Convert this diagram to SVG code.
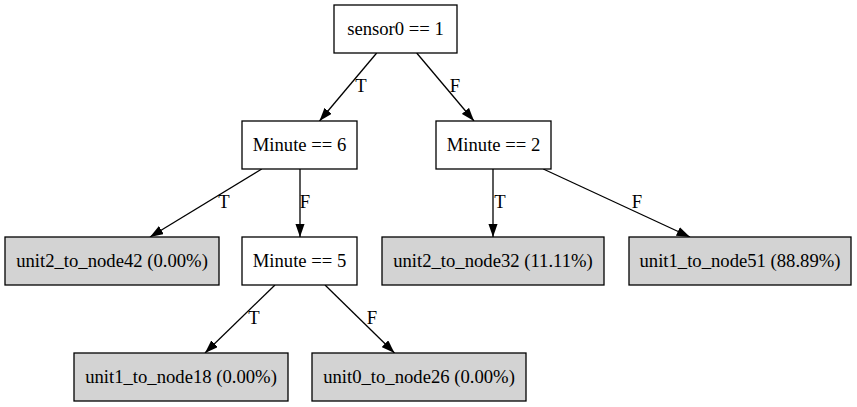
<svg xmlns="http://www.w3.org/2000/svg" width="857" height="407" viewBox="0 0 857 407">
  <style>
    .box { fill: #ffffff; stroke: #000000; stroke-width: 1.3; }
    .leaf { fill: #d3d3d3; stroke: #000000; stroke-width: 1.3; }
    text { font-family: 'Liberation Serif', 'Times New Roman', Times, serif; font-size: 18.67px; fill: #000000; }
    .nl { text-anchor: middle; }
    .el { text-anchor: middle; }
    .edge { fill: none; stroke: #000000; stroke-width: 1.3; marker-end: url(#arrow); }
  </style>
  <defs>
    <marker id="arrow" viewBox="0 0 13.3 9.3" refX="13.3" refY="4.65" markerWidth="13.3" markerHeight="9.3" markerUnits="userSpaceOnUse" orient="auto">
      <path d="M0,0 L13.3,4.65 L0,9.3 z" fill="#000000"/>
    </marker>
  </defs>
  <rect width="857" height="407" fill="#ffffff"/>

  <!-- connectors -->
  <g id="edges">
    <path class="edge" d="M376.7,53 L319.5,121"/>
    <text class="el" x="361" y="92">T</text>
    <path class="edge" d="M416.7,53 L474,121"/>
    <text class="el" x="455" y="92">F</text>
    <path class="edge" d="M261.7,169 L150,237"/>
    <text class="el" x="224" y="208">T</text>
    <path class="edge" d="M300,169 L300,237"/>
    <text class="el" x="305" y="208">F</text>
    <path class="edge" d="M493,169 L493,237"/>
    <text class="el" x="500" y="208">T</text>
    <path class="edge" d="M543.3,169 L690,237"/>
    <text class="el" x="637" y="208">F</text>
    <path class="edge" d="M275,285 L205,353"/>
    <text class="el" x="254" y="324">T</text>
    <path class="edge" d="M325,285 L394.5,353"/>
    <text class="el" x="372" y="324">F</text>
  </g>

  <!-- nodes -->
  <g id="node_root">
    <rect class="box" x="334" y="5" width="123" height="48"/>
    <text class="nl" x="395.5" y="34.5">sensor0 == 1</text>
  </g>
  <g id="node_minute6">
    <rect class="box" x="242" y="121" width="115" height="48"/>
    <text class="nl" x="299.5" y="150.5">Minute == 6</text>
  </g>
  <g id="node_minute2">
    <rect class="box" x="436" y="121" width="115" height="48"/>
    <text class="nl" x="493.5" y="150.5">Minute == 2</text>
  </g>
  <g id="node_unit2_to_node42">
    <rect class="leaf" x="5" y="237" width="214" height="48"/>
    <text class="nl" x="112" y="266.5">unit2_to_node42 (0.00%)</text>
  </g>
  <g id="node_minute5">
    <rect class="box" x="242" y="237" width="115" height="48"/>
    <text class="nl" x="299.5" y="266.5">Minute == 5</text>
  </g>
  <g id="node_unit2_to_node32">
    <rect class="leaf" x="382" y="237" width="222" height="48"/>
    <text class="nl" x="493" y="266.5">unit2_to_node32 (11.11%)</text>
  </g>
  <g id="node_unit1_to_node51">
    <rect class="leaf" x="629" y="237" width="222" height="48"/>
    <text class="nl" x="740" y="266.5">unit1_to_node51 (88.89%)</text>
  </g>
  <g id="node_unit1_to_node18">
    <rect class="leaf" x="74" y="353" width="214" height="48"/>
    <text class="nl" x="181" y="382.5">unit1_to_node18 (0.00%)</text>
  </g>
  <g id="node_unit0_to_node26">
    <rect class="leaf" x="312" y="353" width="214" height="48"/>
    <text class="nl" x="419" y="382.5">unit0_to_node26 (0.00%)</text>
  </g>
</svg>
